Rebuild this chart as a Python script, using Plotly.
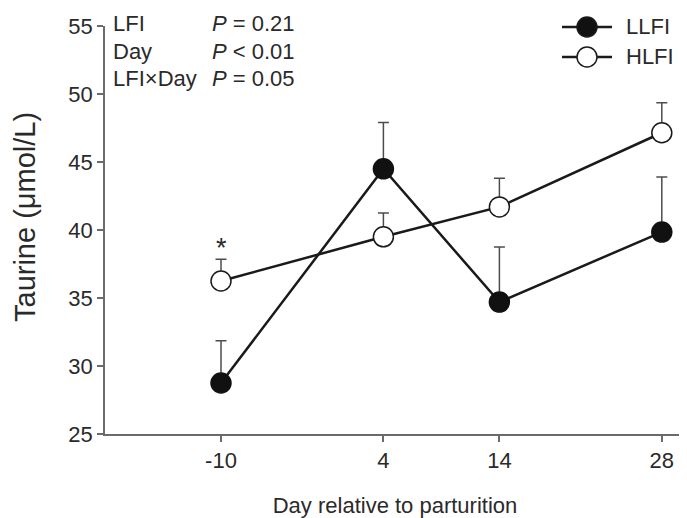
import plotly.graph_objects as go

# ---- data ----
days = [-10, 4, 14, 28]
llfi_mean = [28.75, 44.5, 34.7, 39.85]
llfi_se = [3.1, 3.4, 4.05, 4.05]
hlfi_mean = [36.25, 39.5, 41.7, 47.15]
hlfi_se = [1.6, 1.75, 2.1, 2.2]
x_ticks = [-10, 4, 14, 28]
y_ticks = [25, 30, 35, 40, 45, 50, 55]
stats_labels = ["LFI", "Day", "LFI×Day"]
stats_values = ["<i>P</i> = 0.21", "<i>P</i> < 0.01", "<i>P</i> = 0.05"]
series_names = ["LLFI", "HLFI"]

FONT = "Liberation Sans, Arial, sans-serif"
TXT = "#2a2a2a"
AX = "#6b6b6b"

OFF = 8  # page body margin in the browser
W, H = 687 - OFF, 518 - OFF
L, T = 105 - OFF, 26 - OFF
PW, PH = 580, 408
R, B = W - L - PW, H - T - PH


def px(xr):
    # reference-window pixel x -> paper coordinate
    return (xr - OFF - L) / PW


def py(yr):
    # reference-window pixel y -> paper coordinate
    return (T + PH - (yr - OFF)) / PH


fig = go.Figure()

fig.add_trace(go.Scatter(
    x=days, y=llfi_mean, name=series_names[0], mode="lines+markers",
    line=dict(color="#1a1a1a", width=2.5),
    marker=dict(size=20, color="#111111", line=dict(color="#111111", width=1.5)),
    error_y=dict(type="data", symmetric=False, array=llfi_se, arrayminus=[0] * 4,
                 color="#4d4d4d", thickness=1.5, width=5.5),
    showlegend=False,
))
fig.add_trace(go.Scatter(
    x=days, y=hlfi_mean, name=series_names[1], mode="lines+markers",
    line=dict(color="#1a1a1a", width=2.5),
    marker=dict(size=20, color="white", line=dict(color="#1a1a1a", width=1.5)),
    error_y=dict(type="data", symmetric=False, array=hlfi_se, arrayminus=[0] * 4,
                 color="#4d4d4d", thickness=1.5, width=5.5),
    showlegend=False,
))

annotations = []
# statistics block
row_y = [23, 51, 78]
for lab, val, yy in zip(stats_labels, stats_values, row_y):
    annotations.append(dict(x=px(111), y=py(yy), xref="paper", yref="paper", text=lab,
                            showarrow=False, xanchor="left", yanchor="middle",
                            font=dict(family=FONT, size=22, color=TXT)))
    annotations.append(dict(x=px(210), y=py(yy), xref="paper", yref="paper", text=val,
                            showarrow=False, xanchor="left", yanchor="middle",
                            font=dict(family=FONT, size=22, color=TXT)))

# asterisk
annotations.append(dict(x=days[0], y=hlfi_mean[0] + hlfi_se[0], xref="x", yref="y", text="*",
                        showarrow=False, xanchor="center", yanchor="bottom", yshift=-6,
                        font=dict(family=FONT, size=27, color=TXT)))

# y title
annotations.append(dict(x=px(25), y=py(217), xref="paper", yref="paper",
                        text="Taurine (μmol/L)", textangle=-90, showarrow=False,
                        xanchor="center", yanchor="middle",
                        font=dict(family=FONT, size=29, color=TXT)))

# manual legend
shapes = []
leg_y = [27, 57]
fills = ["#111111", "white"]
r = 10
for name, yy, fc in zip(series_names, leg_y, fills):
    shapes.append(dict(type="line", xref="paper", yref="paper",
                       x0=px(562), x1=px(612), y0=py(yy), y1=py(yy),
                       line=dict(color="#1a1a1a", width=2.5)))
    shapes.append(dict(type="circle", xref="paper", yref="paper",
                       x0=px(587 - r), x1=px(587 + r), y0=py(yy + r), y1=py(yy - r),
                       fillcolor=fc, line=dict(color="#1a1a1a", width=1.5)))
    annotations.append(dict(x=px(624), y=py(yy), xref="paper", yref="paper", text=name,
                            showarrow=False, xanchor="left", yanchor="middle",
                            font=dict(family=FONT, size=22, color=TXT)))

fig.update_layout(
    width=W, height=H,
    margin=dict(l=L, r=R, t=T, b=B),
    paper_bgcolor="white", plot_bgcolor="white",
    font=dict(family=FONT, size=22, color=TXT),
    xaxis=dict(range=[-20, 30], tickvals=x_ticks, ticktext=[str(v) for v in x_ticks],
               showgrid=False, zeroline=False, showline=True, linecolor=AX, linewidth=1.6,
               ticks="outside", ticklen=6, tickwidth=1.6, tickcolor=AX,
               tickfont=dict(family=FONT, size=22, color=TXT),
               title=dict(text="Day relative to parturition", standoff=26,
                          font=dict(family=FONT, size=22, color=TXT))),
    yaxis=dict(range=[25, 55], tickvals=y_ticks, showgrid=False, zeroline=False,
               showline=True, linecolor=AX, linewidth=1.6,
               ticks="outside", ticklen=6, tickwidth=1.6, tickcolor=AX,
               tickfont=dict(family=FONT, size=22, color=TXT)),
    annotations=annotations,
    shapes=shapes,
)

fig.write_html("out.html")
